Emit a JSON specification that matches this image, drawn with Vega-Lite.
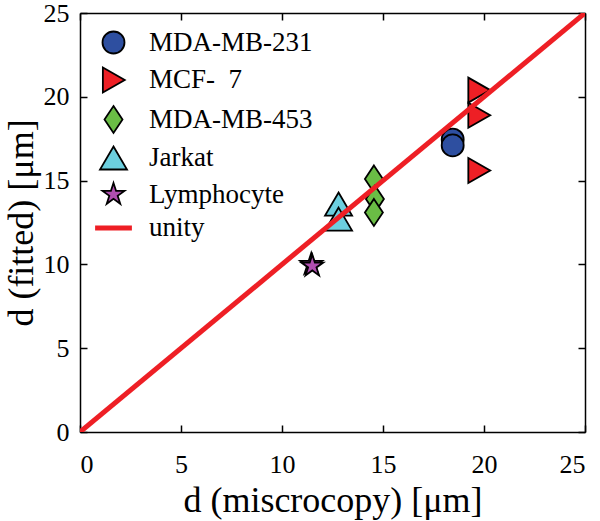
{
  "$schema": "https://vega.github.io/schema/vega-lite/v6.json",
  "width": 505,
  "height": 419,
  "autosize": {"type": "none"},
  "padding": {"left": 80, "right": 15, "top": 13, "bottom": 89},
  "background": "white",
  "config": {
    "view": {"stroke": null},
    "axis": {
      "labelFont": "Liberation Serif",
      "labelFontSize": 26,
      "labelColor": "black",
      "titleFont": "Liberation Serif",
      "titleFontSize": 36,
      "titleFontWeight": "normal",
      "titleColor": "black",
      "domainColor": "black",
      "domainWidth": 1.5,
      "tickColor": "black",
      "tickWidth": 1.5,
      "tickSize": -7,
      "grid": false
    }
  },
  "datasets": {
    "cells": [
      {"series": "MDA-MB-231", "xm": 18.45, "yf": 17.45},
      {"series": "MDA-MB-231", "xm": 18.45, "yf": 17.1},
      {"series": "MCF-\u00a0\u00a07", "xm": 19.75, "yf": 20.4},
      {"series": "MCF-\u00a0\u00a07", "xm": 19.75, "yf": 18.9},
      {"series": "MCF-\u00a0\u00a07", "xm": 19.75, "yf": 15.6},
      {"series": "MDA-MB-453", "xm": 14.55, "yf": 15.1},
      {"series": "MDA-MB-453", "xm": 14.6, "yf": 13.9},
      {"series": "MDA-MB-453", "xm": 14.55, "yf": 13.1},
      {"series": "Jarkat", "xm": 12.8, "yf": 13.6},
      {"series": "Jarkat", "xm": 12.8, "yf": 12.7},
      {"series": "Lymphocyte", "xm": 11.45, "yf": 10.0},
      {"series": "Lymphocyte", "xm": 11.5, "yf": 9.9}
    ],
    "unity": [
      {"series": "unity", "xm": 0, "yf": 0},
      {"series": "unity", "xm": 25, "yf": 25}
    ]
  },
  "resolve": {"axis": {"x": "independent", "y": "independent"}},
  "layer": [
    {
      "data": {"name": "cells"},
      "mark": {"type": "point", "filled": true, "size": 625, "opacity": 1, "strokeWidth": 1.8},
      "encoding": {
        "x": {"field": "xm", "type": "quantitative", "scale": {"domain": [0, 25], "nice": false}, "axis": {"orient": "bottom", "values": [0, 5, 10, 15, 20, 25], "title": "d (miscrocopy) [μm]", "labelPadding": 26, "titlePadding": 6}},
        "y": {"field": "yf", "type": "quantitative", "scale": {"domain": [0, 25], "nice": false}, "axis": {"orient": "left", "values": [0, 5, 10, 15, 20, 25], "title": "d (fitted) [μm]", "labelPadding": 18, "titlePadding": 3}},
        "fill": {"field": "series", "type": "nominal", "scale": {"domain": ["MDA-MB-231", "MCF-\u00a0\u00a07", "MDA-MB-453", "Jarkat", "Lymphocyte", "unity"], "range": ["#2E4FA0", "#EE1F25", "#6ABD45", "#6CCFDF", "#B04EB0", "#EE1F25"]},
          "legend": {
            "title": null,
            "orient": "none",
            "legendX": 20,
            "legendY": 16,
            "padding": 0,
            "symbolSize": 625,
            "symbolStrokeWidth": 1.8,
            "labelFont": "Liberation Serif",
            "labelFontSize": 27,
            "labelColor": "black",
            "labelOffset": 22,
            "rowPadding": 5.5,
            "labelLimit": 300
          }
        },
        "stroke": {"field": "series", "type": "nominal", "scale": {"domain": ["MDA-MB-231", "MCF-\u00a0\u00a07", "MDA-MB-453", "Jarkat", "Lymphocyte", "unity"], "range": ["black", "black", "black", "black", "black", "#EE1F25"]}},
        "shape": {"field": "series", "type": "nominal", "scale": {"domain": ["MDA-MB-231", "MCF-\u00a0\u00a07", "MDA-MB-453", "Jarkat", "Lymphocyte", "unity"], "range": [
          "M-0.88,0A0.88,0.88 0 1,0 0.88,0A0.88,0.88 0 1,0 -0.88,0Z",
          "M-0.85,-1L0.9,0L-0.85,1Z",
          "M0,-1.08L0.72,0L0,1.08L-0.72,0Z",
          "M0,-0.92L1.08,0.92L-1.08,0.92Z",
          "M0,-0.92L0.207,-0.284L0.875,-0.284L0.334,0.109L0.541,0.744L0,0.351L-0.541,0.744L-0.334,0.109L-0.875,-0.284L-0.207,-0.284Z",
          "M-1.4,-0.13L1.4,-0.13L1.4,0.13L-1.4,0.13Z"
        ]}}
      }
    },
    {
      "data": {"name": "unity"},
      "mark": {"type": "line", "color": "#EE1F25", "strokeWidth": 5, "clip": true},
      "encoding": {
        "x": {"field": "xm", "type": "quantitative", "axis": null},
        "y": {"field": "yf", "type": "quantitative", "axis": null}
      }
    },
    {
      "data": {"name": "unity"},
      "mark": {"type": "point", "opacity": 0},
      "encoding": {
        "x": {"field": "xm", "type": "quantitative", "axis": {"orient": "top", "values": [0, 5, 10, 15, 20, 25], "labels": false, "title": null}},
        "y": {"field": "yf", "type": "quantitative", "axis": {"orient": "right", "values": [0, 5, 10, 15, 20, 25], "labels": false, "title": null}}
      }
    }
  ]
}
